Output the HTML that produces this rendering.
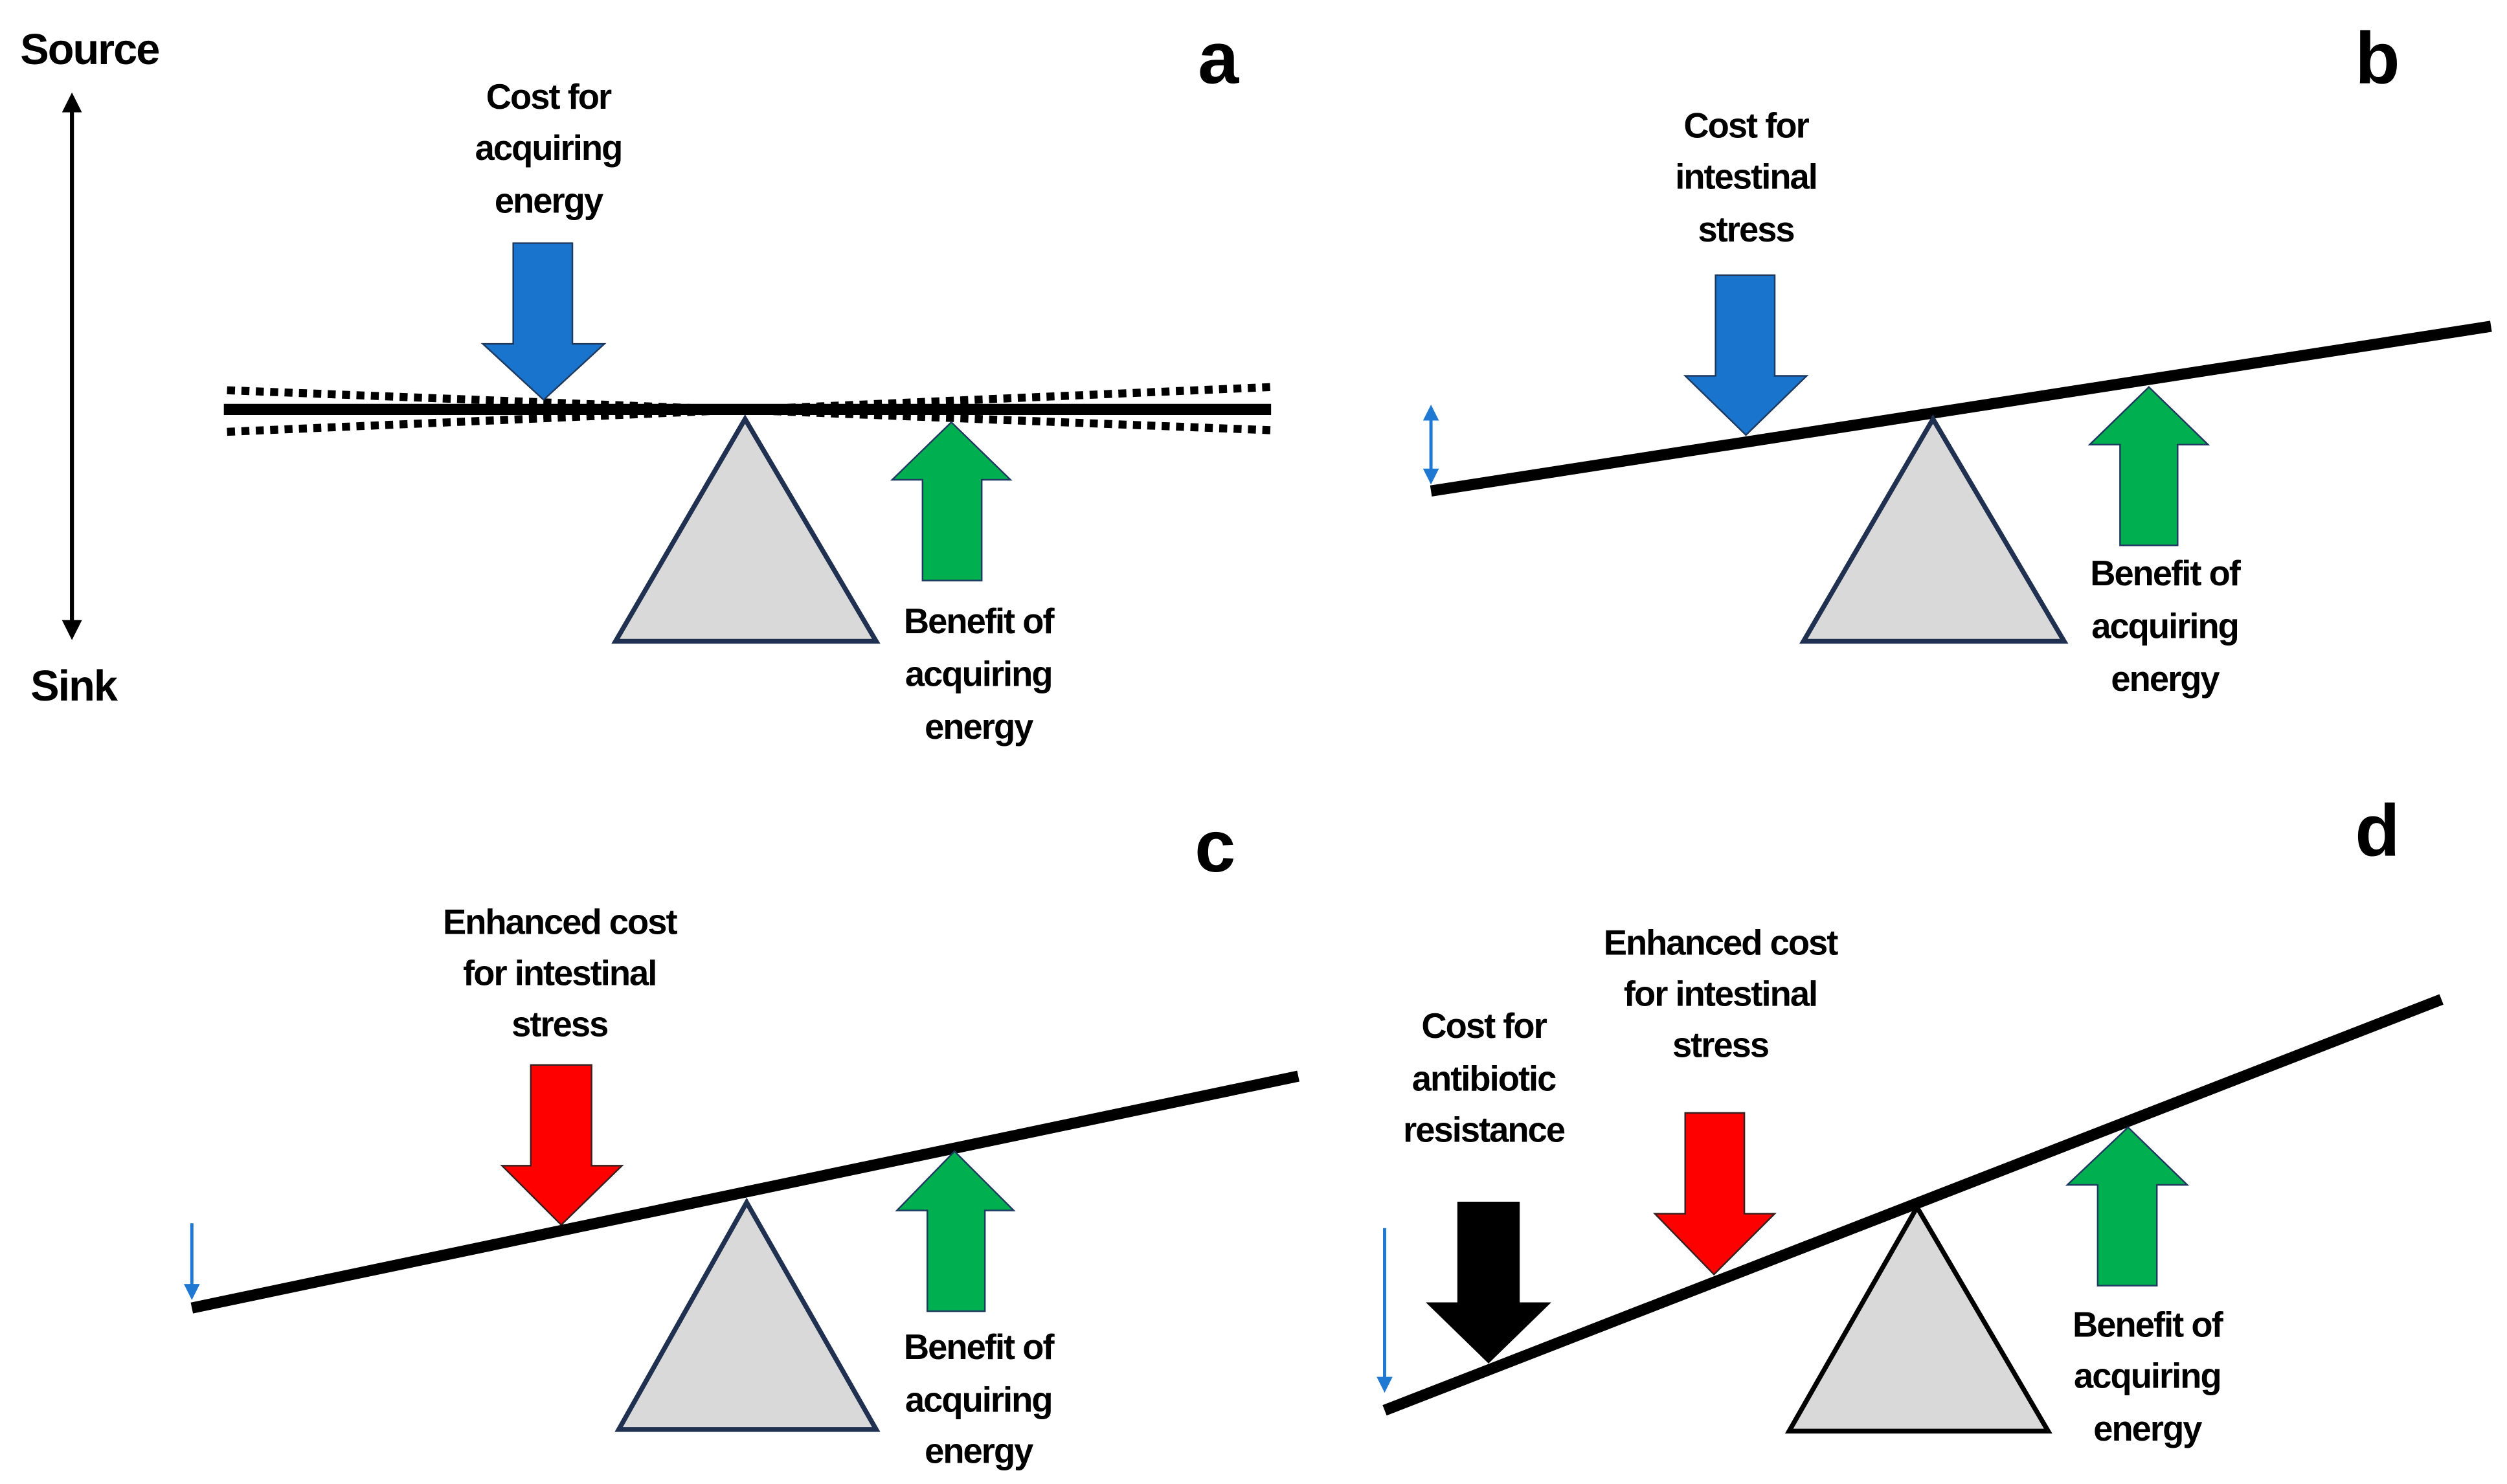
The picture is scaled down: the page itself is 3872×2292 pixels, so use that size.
<!DOCTYPE html>
<html><head><style>html,body{margin:0;padding:0;background:#fff}svg{display:block}</style></head>
<body>
<svg width="3872" height="2292" viewBox="0 0 1568 928" xmlns="http://www.w3.org/2000/svg" font-family="Liberation Sans, Arial, sans-serif" font-weight="bold">
<defs>
<marker id="ah" markerWidth="5" markerHeight="5" refX="2.5" refY="2.5" orient="auto-start-reverse" markerUnits="strokeWidth"><path d="M0,0 L5,2.5 L0,5 z" fill="#000"/></marker>
<marker id="bh" markerWidth="5" markerHeight="5" refX="2.5" refY="2.5" orient="auto-start-reverse" markerUnits="strokeWidth"><path d="M0,0 L5,2.5 L0,5 z" fill="#1f78d1"/></marker>
</defs>
<g font-size="22" text-anchor="middle" fill="#000" letter-spacing="-0.8">
<!-- Panel a -->
<text x="56" y="40" font-size="27">Source</text>
<text x="46" y="438" font-size="27">Sink</text>
<line x1="45" y1="64" x2="45" y2="394" stroke="#000" stroke-width="2.5" marker-start="url(#ah)" marker-end="url(#ah)"/>
<text x="762" y="52" font-size="46" letter-spacing="0">a</text>
<text x="343" y="68">Cost for</text><text x="343" y="100">acquiring</text><text x="343" y="133">energy</text>
<line x1="142" y1="244" x2="795" y2="269" stroke="#000" stroke-width="5" stroke-dasharray="5,4"/>
<line x1="142" y1="270" x2="795" y2="242" stroke="#000" stroke-width="5" stroke-dasharray="5,4"/>
<line x1="140" y1="256" x2="795" y2="256" stroke="#000" stroke-width="7"/>
<polygon points="321,152 358,152 358,215 378,215 340,250 302,215 321,215" fill="#1874cd" stroke="#1f3a60" stroke-width="1"/>
<polygon points="466,262 548,401 385,401" fill="#d9d9d9" stroke="#1f3050" stroke-width="3"/>
<polygon points="595,264 632,300 614,300 614,363 577,363 577,300 558,300" fill="#00b050" stroke="#1f3a60" stroke-width="1"/>
<text x="612" y="396">Benefit of</text><text x="612" y="429">acquiring</text><text x="612" y="462">energy</text>
<!-- Panel b -->
<text x="1487" y="52" font-size="46" letter-spacing="0">b</text>
<text x="1092" y="86">Cost for</text><text x="1092" y="118">intestinal</text><text x="1092" y="151">stress</text>
<polygon points="1073,172 1110,172 1110,235 1130,235 1092,272 1054,235 1073,235" fill="#1874cd" stroke="#1f3a60" stroke-width="1"/>
<line x1="895" y1="307" x2="1558" y2="204" stroke="#000" stroke-width="7"/>
<line x1="895" y1="258" x2="895" y2="298" stroke="#1f78d1" stroke-width="2" marker-start="url(#bh)" marker-end="url(#bh)"/>
<polygon points="1209,262 1291,401 1128,401" fill="#d9d9d9" stroke="#1f3050" stroke-width="3"/>
<polygon points="1344,242 1381,278 1362,278 1362,341 1326,341 1326,278 1307,278" fill="#00b050" stroke="#1f3a60" stroke-width="1"/>
<text x="1354" y="366">Benefit of</text><text x="1354" y="399">acquiring</text><text x="1354" y="432">energy</text>
<!-- Panel c -->
<text x="760" y="545" font-size="46" letter-spacing="0">c</text>
<text x="350" y="584">Enhanced cost</text><text x="350" y="616">for intestinal</text><text x="350" y="648">stress</text>
<polygon points="332,666 370,666 370,729 389,729 351,766 314,729 332,729" fill="#ff0000" stroke="#3a1f1f" stroke-width="1"/>
<line x1="120" y1="818" x2="812" y2="673" stroke="#000" stroke-width="7"/>
<line x1="120" y1="765" x2="120" y2="808" stroke="#1f78d1" stroke-width="2" marker-end="url(#bh)"/>
<polygon points="467,752 548,894 387,894" fill="#d9d9d9" stroke="#1f3050" stroke-width="3"/>
<polygon points="597,720 634,757 616,757 616,820 580,820 580,757 561,757" fill="#00b050" stroke="#1f3a60" stroke-width="1"/>
<text x="612" y="850">Benefit of</text><text x="612" y="883">acquiring</text><text x="612" y="915">energy</text>
<!-- Panel d -->
<text x="1487" y="535" font-size="46" letter-spacing="0">d</text>
<text x="928" y="649">Cost for</text><text x="928" y="682">antibiotic</text><text x="928" y="714">resistance</text>
<text x="1076" y="597">Enhanced cost</text><text x="1076" y="629">for intestinal</text><text x="1076" y="661">stress</text>
<polygon points="912,752 950,752 950,815 969,815 931,852 893,815 912,815" fill="#000" stroke="#000" stroke-width="1"/>
<polygon points="1054,696 1091,696 1091,759 1110,759 1072,797 1035,759 1054,759" fill="#ff0000" stroke="#3a1f1f" stroke-width="1"/>
<line x1="866" y1="882" x2="1527" y2="625" stroke="#000" stroke-width="7"/>
<line x1="866" y1="768" x2="866" y2="866" stroke="#1f78d1" stroke-width="2" marker-end="url(#bh)"/>
<polygon points="1199,755 1281,895 1119,895" fill="#d9d9d9" stroke="#000" stroke-width="3"/>
<polygon points="1331,705 1368,741 1349,741 1349,804 1312,804 1312,741 1293,741" fill="#00b050" stroke="#1f3a60" stroke-width="1"/>
<text x="1343" y="836">Benefit of</text><text x="1343" y="868">acquiring</text><text x="1343" y="901">energy</text>
</g>
</svg>
</body></html>
